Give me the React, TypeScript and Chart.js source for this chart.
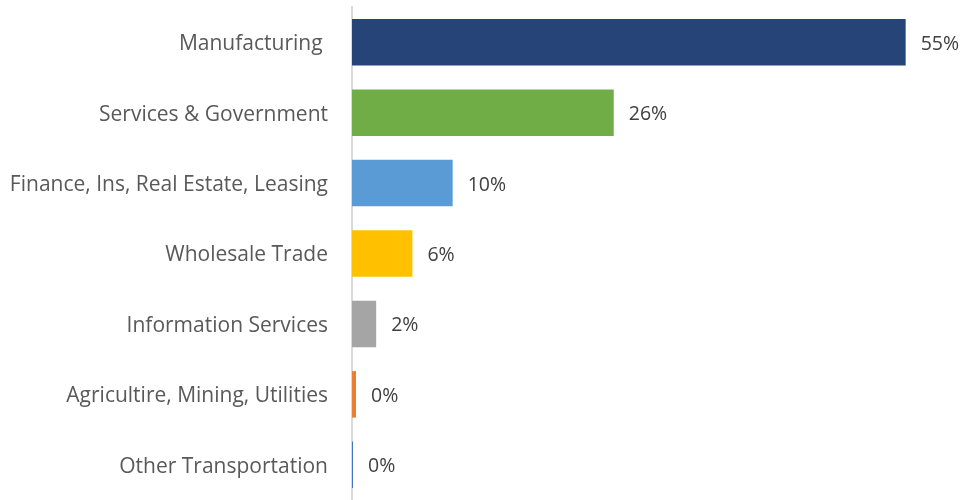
import React, { useEffect, useRef } from "react";
import { Chart, registerables } from "chart.js";

Chart.register(...registerables);

const categories = [
  "Manufacturing ",
  "Services & Government",
  "Finance, Ins, Real Estate, Leasing",
  "Wholesale Trade",
  "Information Services",
  "Agricultire, Mining, Utilities",
  "Other Transportation",
];
const values = [55, 26, 10, 6, 2.4, 0.4, 0.1];
const colors = ["#264478", "#70AD47", "#5B9BD5", "#FFC000", "#A5A5A5", "#ED7D31", "#4472C4"];

const FONT = "'Open Sans', sans-serif";

const valueLabels = {
  id: "valueLabels",
  afterDatasetsDraw(chart: any) {
    const ctx = chart.ctx;
    const meta = chart.getDatasetMeta(0);
    ctx.save();
    ctx.font = `19.5px ${FONT}`;
    ctx.fillStyle = "#404040";
    ctx.textBaseline = "middle";
    ctx.textAlign = "left";
    meta.data.forEach((bar: any, i: number) => {
      ctx.fillText(Math.round(values[i]) + "%", bar.x + 15, bar.y + 2);
    });
    ctx.restore();
  },
};

export default function App() {
  const ref = useRef<HTMLCanvasElement>(null);
  useEffect(() => {
    const chart = new Chart(ref.current!, {
      type: "bar",
      data: {
        labels: categories,
        datasets: [
          {
            data: values,
            backgroundColor: colors,
            barPercentage: 0.66,
            categoryPercentage: 1,
          },
        ],
      },
      options: {
        indexAxis: "y",
        animation: false,
        responsive: false,
        layout: { padding: { top: 7, bottom: -4, left: 0, right: 9 } },
        plugins: { legend: { display: false }, tooltip: { enabled: false } },
        scales: {
          x: { display: false, min: 0, max: 60 },
          y: {
            grid: { display: false },
            border: { display: true, color: "#d9d9d9", width: 2 },
            ticks: {
              color: "#595959",
              font: { family: FONT, size: 21 },
              padding: 16,
              labelOffset: 2,
            },
            afterFit: (axis: any) => {
              axis.width = 352;
              axis.paddingTop = 0;
              axis.paddingBottom = 0;
            },
          },
        },
      },
      plugins: [valueLabels],
    });
    return () => chart.destroy();
  }, []);
  return (
    <div style={{ position: "fixed", left: 0, top: 0, width: 965, height: 500 }}>
      <canvas ref={ref} width={965} height={500} />
    </div>
  );
}
